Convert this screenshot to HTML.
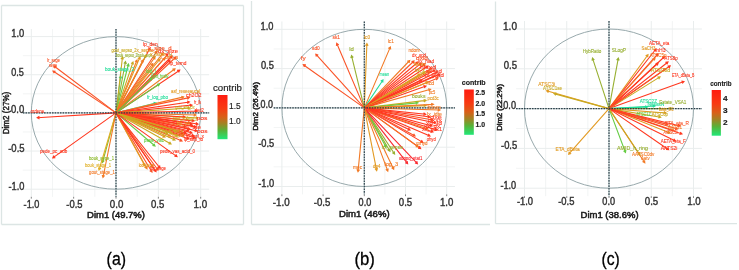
<!DOCTYPE html>
<html><head><meta charset="utf-8"><style>
html,body{margin:0;padding:0;background:#fff;}
body{width:739px;height:270px;overflow:hidden;}
svg{display:block;font-family:"Liberation Sans", sans-serif;filter:blur(0.3px);}
</style></head><body>
<svg width="739" height="270" viewBox="0 0 739 270">
<rect width="739" height="270" fill="#fff"/>
<line x1="1.5" y1="5.5" x2="1.5" y2="224.5" stroke="#dce5e4" stroke-width="1.3"/>
<line x1="1.5" y1="5.5" x2="243.5" y2="5.5" stroke="#dce5e4" stroke-width="1.3"/>
<line x1="243.5" y1="5.5" x2="243.5" y2="224.5" stroke="#dce5e4" stroke-width="1.3"/>
<line x1="1.5" y1="224.5" x2="243.5" y2="224.5" stroke="#dce5e4" stroke-width="1.3"/>
<line x1="52.47" y1="28.97" x2="52.47" y2="196.83" stroke="#e9eded" stroke-width="0.6"/>
<line x1="22.83" y1="170.12" x2="209.17" y2="170.12" stroke="#e9eded" stroke-width="0.6"/>
<line x1="94.83" y1="28.97" x2="94.83" y2="196.83" stroke="#e9eded" stroke-width="0.6"/>
<line x1="22.83" y1="131.97" x2="209.17" y2="131.97" stroke="#e9eded" stroke-width="0.6"/>
<line x1="137.18" y1="28.97" x2="137.18" y2="196.83" stroke="#e9eded" stroke-width="0.6"/>
<line x1="22.83" y1="93.83" x2="209.17" y2="93.83" stroke="#e9eded" stroke-width="0.6"/>
<line x1="179.53" y1="28.97" x2="179.53" y2="196.83" stroke="#e9eded" stroke-width="0.6"/>
<line x1="22.83" y1="55.68" x2="209.17" y2="55.68" stroke="#e9eded" stroke-width="0.6"/>
<line x1="31.30" y1="28.97" x2="31.30" y2="196.83" stroke="#e9eded" stroke-width="1"/>
<line x1="22.83" y1="189.20" x2="209.17" y2="189.20" stroke="#e9eded" stroke-width="1"/>
<line x1="73.65" y1="28.97" x2="73.65" y2="196.83" stroke="#e9eded" stroke-width="1"/>
<line x1="22.83" y1="151.05" x2="209.17" y2="151.05" stroke="#e9eded" stroke-width="1"/>
<line x1="116.00" y1="28.97" x2="116.00" y2="196.83" stroke="#e9eded" stroke-width="1"/>
<line x1="22.83" y1="112.90" x2="209.17" y2="112.90" stroke="#e9eded" stroke-width="1"/>
<line x1="158.35" y1="28.97" x2="158.35" y2="196.83" stroke="#e9eded" stroke-width="1"/>
<line x1="22.83" y1="74.75" x2="209.17" y2="74.75" stroke="#e9eded" stroke-width="1"/>
<line x1="200.70" y1="28.97" x2="200.70" y2="196.83" stroke="#e9eded" stroke-width="1"/>
<line x1="22.83" y1="36.60" x2="209.17" y2="36.60" stroke="#e9eded" stroke-width="1"/>
<ellipse cx="116" cy="112.9" rx="84.7" ry="76.3" fill="none" stroke="#8c9fa3" stroke-width="0.9"/>
<line x1="22.83" y1="112.9" x2="209.17" y2="112.9" stroke="#c8d8d8" stroke-width="1.3"/>
<line x1="116" y1="28.97" x2="116" y2="196.83" stroke="#c8d8d8" stroke-width="1.3"/>
<path d="M116.0 112.9L54.0 66.0M55.0 68.4L54.0 66.0L56.6 66.3" stroke="#fa5428" stroke-width="1.1" fill="none"/>
<path d="M116.0 112.9L53.0 71.0M54.2 73.3L53.0 71.0L55.6 71.2" stroke="#fa5428" stroke-width="1.1" fill="none"/>
<path d="M116.0 112.9L37.2 117.7M39.5 118.9L37.2 117.7L39.4 116.3" stroke="#ff3820" stroke-width="1.1" fill="none"/>
<path d="M116.0 112.9L52.8 157.9M55.4 157.7L52.8 157.9L53.9 155.5" stroke="#ff3820" stroke-width="1.1" fill="none"/>
<path d="M116.0 112.9L102.5 162.5M104.3 160.7L102.5 162.5L101.8 160.0" stroke="#8cba2c" stroke-width="1.1" fill="none"/>
<path d="M116.0 112.9L99.0 170.0M100.9 168.2L99.0 170.0L98.4 167.5" stroke="#e0b028" stroke-width="1.1" fill="none"/>
<path d="M116.0 112.9L103.0 177.5M104.7 175.5L103.0 177.5L102.2 175.0" stroke="#f27a26" stroke-width="1.1" fill="none"/>
<path d="M116.0 112.9L120.7 76.0M119.1 78.1L120.7 76.0L121.7 78.4" stroke="#22dd99" stroke-width="1.1" fill="none"/>
<path d="M116.0 112.9L122.5 57.0M120.9 59.1L122.5 57.0L123.5 59.4" stroke="#c9aa22" stroke-width="1.1" fill="none"/>
<path d="M116.0 112.9L125.5 61.5M123.8 63.5L125.5 61.5L126.4 64.0" stroke="#98b032" stroke-width="1.1" fill="none"/>
<path d="M116.0 112.9L128.5 64.0M126.7 65.9L128.5 64.0L129.2 66.5" stroke="#66cc44" stroke-width="1.1" fill="none"/>
<path d="M116.0 112.9L133.0 62.0M131.1 63.7L133.0 62.0L133.5 64.5" stroke="#c9aa22" stroke-width="1.1" fill="none"/>
<path d="M116.0 112.9L150.0 48.0M147.8 49.4L150.0 48.0L150.1 50.6" stroke="#ff3820" stroke-width="1.1" fill="none"/>
<path d="M116.0 112.9L157.0 51.0M154.7 52.2L157.0 51.0L156.8 53.6" stroke="#fa5428" stroke-width="1.1" fill="none"/>
<path d="M116.0 112.9L163.0 53.0M160.6 54.0L163.0 53.0L162.6 55.6" stroke="#f27a26" stroke-width="1.1" fill="none"/>
<path d="M116.0 112.9L168.0 54.0M165.5 54.8L168.0 54.0L167.5 56.5" stroke="#ff3820" stroke-width="1.1" fill="none"/>
<path d="M116.0 112.9L172.0 56.0M169.5 56.7L172.0 56.0L171.3 58.5" stroke="#ff3820" stroke-width="1.1" fill="none"/>
<path d="M116.0 112.9L176.0 57.0M173.5 57.6L176.0 57.0L175.2 59.5" stroke="#fa5428" stroke-width="1.1" fill="none"/>
<path d="M116.0 112.9L146.0 55.0M143.8 56.4L146.0 55.0L146.1 57.6" stroke="#c9aa22" stroke-width="1.1" fill="none"/>
<path d="M116.0 112.9L140.0 57.0M137.9 58.6L140.0 57.0L140.3 59.6" stroke="#e29a22" stroke-width="1.1" fill="none"/>
<path d="M116.0 112.9L155.0 57.0M152.6 58.1L155.0 57.0L154.8 59.6" stroke="#f27a26" stroke-width="1.1" fill="none"/>
<path d="M116.0 112.9L160.0 59.0M157.6 59.9L160.0 59.0L159.6 61.6" stroke="#e29a22" stroke-width="1.1" fill="none"/>
<path d="M116.0 112.9L165.0 58.0M162.5 58.8L165.0 58.0L164.5 60.5" stroke="#f27a26" stroke-width="1.1" fill="none"/>
<path d="M116.0 112.9L152.8 63.5M150.4 64.5L152.8 63.5L152.5 66.1" stroke="#f27a26" stroke-width="1.1" fill="none"/>
<path d="M116.0 112.9L170.0 60.0M167.5 60.6L170.0 60.0L169.3 62.5" stroke="#ff3820" stroke-width="1.1" fill="none"/>
<path d="M116.0 112.9L175.0 68.8M172.4 69.1L175.0 68.8L174.0 71.2" stroke="#f27a26" stroke-width="1.1" fill="none"/>
<path d="M116.0 112.9L179.7 70.2M177.1 70.4L179.7 70.2L178.6 72.5" stroke="#ff3820" stroke-width="1.1" fill="none"/>
<path d="M116.0 112.9L152.0 78.0M149.5 78.6L152.0 78.0L151.3 80.5" stroke="#66cc44" stroke-width="1.1" fill="none"/>
<path d="M116.0 112.9L159.5 84.0M156.9 84.2L159.5 84.0L158.3 86.3" stroke="#66cc44" stroke-width="1.1" fill="none"/>
<path d="M116.0 112.9L137.0 60.0M135.0 61.6L137.0 60.0L137.4 62.6" stroke="#f27a26" stroke-width="1.1" fill="none"/>
<path d="M116.0 112.9L143.0 60.0M140.8 61.4L143.0 60.0L143.1 62.6" stroke="#f27a26" stroke-width="1.1" fill="none"/>
<path d="M116.0 112.9L156.0 103.0M153.5 102.3L156.0 103.0L154.1 104.8" stroke="#22dd99" stroke-width="1.1" fill="none"/>
<path d="M116.0 112.9L183.7 96.9M181.2 96.2L183.7 96.9L181.8 98.7" stroke="#f27a26" stroke-width="1.1" fill="none"/>
<path d="M116.0 112.9L189.4 97.6M186.9 96.8L189.4 97.6L187.5 99.3" stroke="#fa5428" stroke-width="1.1" fill="none"/>
<path d="M116.0 112.9L189.4 102.0M187.0 101.0L189.4 102.0L187.4 103.6" stroke="#ff3820" stroke-width="1.1" fill="none"/>
<path d="M116.0 112.9L192.0 105.0M189.6 103.9L192.0 105.0L189.9 106.5" stroke="#ff3820" stroke-width="1.1" fill="none"/>
<path d="M116.0 112.9L190.0 108.0M187.7 106.9L190.0 108.0L187.8 109.4" stroke="#c9aa22" stroke-width="1.1" fill="none"/>
<path d="M116.0 112.9L197.0 111.0M194.7 109.8L197.0 111.0L194.8 112.4" stroke="#ff3820" stroke-width="1.1" fill="none"/>
<path d="M116.0 112.9L196.0 115.0M193.8 113.6L196.0 115.0L193.7 116.2" stroke="#f27a26" stroke-width="1.1" fill="none"/>
<path d="M116.0 112.9L198.0 118.0M195.8 116.6L198.0 118.0L195.7 119.2" stroke="#c9aa22" stroke-width="1.1" fill="none"/>
<path d="M116.0 112.9L194.0 121.0M191.9 119.5L194.0 121.0L191.6 122.1" stroke="#ff3820" stroke-width="1.1" fill="none"/>
<path d="M116.0 112.9L178.0 124.0M176.0 122.3L178.0 124.0L175.6 124.9" stroke="#e29a22" stroke-width="1.1" fill="none"/>
<path d="M116.0 112.9L192.0 124.0M190.0 122.4L192.0 124.0L189.6 125.0" stroke="#ff3820" stroke-width="1.1" fill="none"/>
<path d="M116.0 112.9L196.0 127.0M194.0 125.3L196.0 127.0L193.6 127.9" stroke="#ff3820" stroke-width="1.1" fill="none"/>
<path d="M116.0 112.9L190.0 129.0M188.1 127.3L190.0 129.0L187.5 129.8" stroke="#fa5428" stroke-width="1.1" fill="none"/>
<path d="M116.0 112.9L197.0 131.0M195.1 129.2L197.0 131.0L194.5 131.8" stroke="#ff3820" stroke-width="1.1" fill="none"/>
<path d="M116.0 112.9L186.0 133.0M184.2 131.1L186.0 133.0L183.5 133.6" stroke="#ff3820" stroke-width="1.1" fill="none"/>
<path d="M116.0 112.9L194.0 136.0M192.2 134.1L194.0 136.0L191.5 136.6" stroke="#ff3820" stroke-width="1.1" fill="none"/>
<path d="M116.0 112.9L189.0 139.0M187.3 137.0L189.0 139.0L186.4 139.5" stroke="#ff3820" stroke-width="1.1" fill="none"/>
<path d="M116.0 112.9L182.0 141.0M180.4 138.9L182.0 141.0L179.4 141.3" stroke="#fa5428" stroke-width="1.1" fill="none"/>
<path d="M116.0 112.9L175.0 140.0M173.5 137.9L175.0 140.0L172.4 140.2" stroke="#c9aa22" stroke-width="1.1" fill="none"/>
<path d="M116.0 112.9L171.0 144.0M169.7 141.8L171.0 144.0L168.4 144.0" stroke="#c9aa22" stroke-width="1.1" fill="none"/>
<path d="M116.0 112.9L165.0 137.0M163.6 134.8L165.0 137.0L162.4 137.2" stroke="#e29a22" stroke-width="1.1" fill="none"/>
<path d="M116.0 112.9L155.0 146.0M154.1 143.6L155.0 146.0L152.4 145.5" stroke="#66cc44" stroke-width="1.1" fill="none"/>
<path d="M116.0 112.9L177.0 156.6M175.9 154.2L177.0 156.6L174.4 156.3" stroke="#ff3820" stroke-width="1.1" fill="none"/>
<path d="M116.0 112.9L147.0 168.7M147.0 166.1L147.0 168.7L144.8 167.4" stroke="#f27a26" stroke-width="1.1" fill="none"/>
<path d="M116.0 112.9L156.0 171.7M155.8 169.1L156.0 171.7L153.7 170.6" stroke="#ff3820" stroke-width="1.1" fill="none"/>
<path d="M116.0 112.9L158.0 170.0M157.7 167.4L158.0 170.0L155.6 169.0" stroke="#fa5428" stroke-width="1.1" fill="none"/>
<path d="M116.0 112.9L153.0 167.0M152.8 164.4L153.0 167.0L150.7 165.9" stroke="#ff3820" stroke-width="1.1" fill="none"/>
<path d="M116.0 112.9L145.0 166.0M145.1 163.4L145.0 166.0L142.8 164.6" stroke="#e29a22" stroke-width="1.1" fill="none"/>
<path d="M116.0 112.9L185.0 117.0M182.8 115.6L185.0 117.0L182.7 118.2" stroke="#ff3820" stroke-width="1.1" fill="none"/>
<path d="M116.0 112.9L188.0 120.0M185.9 118.5L188.0 120.0L185.6 121.1" stroke="#fa5428" stroke-width="1.1" fill="none"/>
<path d="M116.0 112.9L190.0 123.0M187.9 121.4L190.0 123.0L187.6 124.0" stroke="#ff3820" stroke-width="1.1" fill="none"/>
<path d="M116.0 112.9L193.0 126.0M191.0 124.3L193.0 126.0L190.6 126.9" stroke="#ff3820" stroke-width="1.1" fill="none"/>
<path d="M116.0 112.9L186.0 127.0M184.0 125.3L186.0 127.0L183.5 127.8" stroke="#fa5428" stroke-width="1.1" fill="none"/>
<path d="M116.0 112.9L189.0 131.0M187.1 129.2L189.0 131.0L186.5 131.7" stroke="#ff3820" stroke-width="1.1" fill="none"/>
<path d="M116.0 112.9L192.0 133.0M190.2 131.2L192.0 133.0L189.5 133.7" stroke="#ff3820" stroke-width="1.1" fill="none"/>
<path d="M116.0 112.9L184.0 136.0M182.3 134.0L184.0 136.0L181.4 136.5" stroke="#ff3820" stroke-width="1.1" fill="none"/>
<path d="M116.0 112.9L195.0 138.0M193.2 136.1L195.0 138.0L192.5 138.6" stroke="#ff3820" stroke-width="1.1" fill="none"/>
<path d="M116.0 112.9L180.0 131.0M178.2 129.1L180.0 131.0L177.5 131.6" stroke="#f27a26" stroke-width="1.1" fill="none"/>
<path d="M116.0 112.9L183.0 134.0M181.2 132.1L183.0 134.0L180.5 134.6" stroke="#ff3820" stroke-width="1.1" fill="none"/>
<path d="M116.0 112.9L198.0 124.0M195.9 122.4L198.0 124.0L195.6 125.0" stroke="#ff3820" stroke-width="1.1" fill="none"/>
<path d="M116.0 112.9L176.0 131.0M174.2 129.1L176.0 131.0L173.5 131.6" stroke="#c9aa22" stroke-width="1.1" fill="none"/>
<path d="M116.0 112.9L172.0 133.0M170.3 131.0L172.0 133.0L169.4 133.5" stroke="#e29a22" stroke-width="1.1" fill="none"/>
<path d="M116.0 112.9L178.0 136.0M176.3 134.0L178.0 136.0L175.4 136.4" stroke="#c9aa22" stroke-width="1.1" fill="none"/>
<path d="M116.0 112.9L168.0 134.0M166.4 131.9L168.0 134.0L165.4 134.4" stroke="#c9aa22" stroke-width="1.1" fill="none"/>
<path d="M116.0 112.9L152.0 172.0M151.9 169.4L152.0 172.0L149.7 170.8" stroke="#fa5428" stroke-width="1.1" fill="none"/>
<path d="M116.0 112.9L160.0 168.0M159.6 165.4L160.0 168.0L157.6 167.1" stroke="#ff3820" stroke-width="1.1" fill="none"/>
<line x1="22.83" y1="112.9" x2="209.17" y2="112.9" stroke="#2c3d48" stroke-width="1.15" stroke-dasharray="1.6 1.05"/>
<line x1="116" y1="28.97" x2="116" y2="196.83" stroke="#2c3d48" stroke-width="1.15" stroke-dasharray="1.6 1.05"/>
<text x="47" y="61.5" font-size="5.3" font-weight="normal" fill="#fa5428" text-anchor="start" textLength="13" lengthAdjust="spacingAndGlyphs" stroke="#fa5428" stroke-width="0.12">lr_sege</text>
<text x="49" y="66.5" font-size="5.3" font-weight="normal" fill="#fa5428" text-anchor="start" textLength="8" lengthAdjust="spacingAndGlyphs" stroke="#fa5428" stroke-width="0.12">sege</text>
<text x="30.6" y="113.4" font-size="5.3" font-weight="normal" fill="#ff3820" text-anchor="start" textLength="13.3" lengthAdjust="spacingAndGlyphs" stroke="#ff3820" stroke-width="0.12">ordena</text>
<text x="40" y="152.8" font-size="5.3" font-weight="normal" fill="#ff3820" text-anchor="start" textLength="27.2" lengthAdjust="spacingAndGlyphs" stroke="#ff3820" stroke-width="0.12">pede_pc_sub</text>
<text x="89" y="159.8" font-size="5.3" font-weight="normal" fill="#8cba2c" text-anchor="start" textLength="25" lengthAdjust="spacingAndGlyphs" stroke="#8cba2c" stroke-width="0.12">bouk_sepe_1</text>
<text x="85" y="166.8" font-size="5.3" font-weight="normal" fill="#e0b028" text-anchor="start" textLength="26" lengthAdjust="spacingAndGlyphs" stroke="#e0b028" stroke-width="0.12">bouk_stage_1</text>
<text x="89" y="173.5" font-size="5.3" font-weight="normal" fill="#f27a26" text-anchor="start" textLength="26" lengthAdjust="spacingAndGlyphs" stroke="#f27a26" stroke-width="0.12">gout_stage_1</text>
<text x="105" y="70.5" font-size="5.3" font-weight="normal" fill="#22dd99" text-anchor="start" textLength="29" lengthAdjust="spacingAndGlyphs" stroke="#22dd99" stroke-width="0.12">bouk_stage_2</text>
<text x="111.4" y="51.7" font-size="5.3" font-weight="normal" fill="#c9aa22" text-anchor="start" textLength="25" lengthAdjust="spacingAndGlyphs" stroke="#c9aa22" stroke-width="0.12">gout_sepso_2</text>
<text x="136.5" y="51.7" font-size="5.3" font-weight="normal" fill="#e29a22" text-anchor="start" textLength="22" lengthAdjust="spacingAndGlyphs" stroke="#e29a22" stroke-width="0.12">x_sepso_d</text>
<text x="116" y="57" font-size="5.3" font-weight="normal" fill="#98b032" text-anchor="start" textLength="21.4" lengthAdjust="spacingAndGlyphs" stroke="#98b032" stroke-width="0.12">bouk_sepso_2</text>
<text x="137.5" y="57" font-size="5.3" font-weight="normal" fill="#98b032" text-anchor="start" textLength="18" lengthAdjust="spacingAndGlyphs" stroke="#98b032" stroke-width="0.12">bouk_sepe_d</text>
<text x="143" y="45.5" font-size="5.3" font-weight="normal" fill="#ff3820" text-anchor="start" textLength="14.8" lengthAdjust="spacingAndGlyphs" stroke="#ff3820" stroke-width="0.12">lp_den</text>
<text x="148" y="49.6" font-size="5.3" font-weight="normal" fill="#fa5428" text-anchor="start" textLength="23.5" lengthAdjust="spacingAndGlyphs" stroke="#fa5428" stroke-width="0.12">x_size_d</text>
<text x="158" y="52.8" font-size="5.3" font-weight="normal" fill="#ff3820" text-anchor="start" textLength="20" lengthAdjust="spacingAndGlyphs" stroke="#ff3820" stroke-width="0.12">dx_size</text>
<text x="150" y="55.8" font-size="5.3" font-weight="normal" fill="#e29a22" text-anchor="start" textLength="22" lengthAdjust="spacingAndGlyphs" stroke="#e29a22" stroke-width="0.12">x_size_u</text>
<text x="160" y="58.5" font-size="5.3" font-weight="normal" fill="#f27a26" text-anchor="start" textLength="18" lengthAdjust="spacingAndGlyphs" stroke="#f27a26" stroke-width="0.12">x_den_u</text>
<text x="169.5" y="64.7" font-size="5.3" font-weight="normal" fill="#ff3820" text-anchor="start" textLength="17" lengthAdjust="spacingAndGlyphs" stroke="#ff3820" stroke-width="0.12">lp_temd</text>
<text x="146" y="73.2" font-size="5.3" font-weight="normal" fill="#66cc44" text-anchor="start" textLength="10" lengthAdjust="spacingAndGlyphs" stroke="#66cc44" stroke-width="0.12">lod_l</text>
<text x="151" y="77.8" font-size="5.3" font-weight="normal" fill="#66cc44" text-anchor="start" textLength="17.4" lengthAdjust="spacingAndGlyphs" stroke="#66cc44" stroke-width="0.12">light_hrdiv</text>
<text x="147" y="99.3" font-size="5.3" font-weight="normal" fill="#22dd99" text-anchor="start" textLength="21" lengthAdjust="spacingAndGlyphs" stroke="#22dd99" stroke-width="0.12">fr_log_pbo</text>
<text x="171" y="92.9" font-size="5.3" font-weight="normal" fill="#e29a22" text-anchor="start" textLength="29" lengthAdjust="spacingAndGlyphs" stroke="#e29a22" stroke-width="0.12">asf_reseeaucal</text>
<text x="186" y="96.9" font-size="5.3" font-weight="normal" fill="#ff3820" text-anchor="start" textLength="15.5" lengthAdjust="spacingAndGlyphs" stroke="#ff3820" stroke-width="0.12">ch2O2</text>
<text x="194" y="104.3" font-size="5.3" font-weight="normal" fill="#ff3820" text-anchor="start" textLength="7" lengthAdjust="spacingAndGlyphs" stroke="#ff3820" stroke-width="0.12">fr_lk</text>
<text x="175.6" y="108.7" font-size="5.3" font-weight="normal" fill="#c9aa22" text-anchor="start" textLength="19" lengthAdjust="spacingAndGlyphs" stroke="#c9aa22" stroke-width="0.12">gout_amr_ctx</text>
<text x="194.8" y="111.7" font-size="5.3" font-weight="normal" fill="#ff3820" text-anchor="start" textLength="9" lengthAdjust="spacingAndGlyphs" stroke="#ff3820" stroke-width="0.12">ded2</text>
<text x="172.6" y="119.8" font-size="5.3" font-weight="normal" fill="#c9aa22" text-anchor="start" textLength="24" lengthAdjust="spacingAndGlyphs" stroke="#c9aa22" stroke-width="0.12">gout_solage_</text>
<text x="196.6" y="119.8" font-size="5.3" font-weight="normal" fill="#ff3820" text-anchor="start" textLength="10.8" lengthAdjust="spacingAndGlyphs" stroke="#ff3820" stroke-width="0.12">pos</text>
<text x="177" y="125" font-size="5.3" font-weight="normal" fill="#e29a22" text-anchor="start" textLength="12.6" lengthAdjust="spacingAndGlyphs" stroke="#e29a22" stroke-width="0.12">bio_vol</text>
<text x="184" y="128.5" font-size="5.3" font-weight="normal" fill="#ff3820" text-anchor="start" textLength="17" lengthAdjust="spacingAndGlyphs" stroke="#ff3820" stroke-width="0.12">lx_tde</text>
<text x="197" y="133" font-size="5.3" font-weight="normal" fill="#ff3820" text-anchor="start" textLength="10.4" lengthAdjust="spacingAndGlyphs" stroke="#ff3820" stroke-width="0.12">pos</text>
<text x="183.7" y="141.3" font-size="5.3" font-weight="normal" fill="#ff3820" text-anchor="start" textLength="19.3" lengthAdjust="spacingAndGlyphs" stroke="#ff3820" stroke-width="0.12">lp_sep_lo</text>
<text x="144" y="141.7" font-size="5.3" font-weight="normal" fill="#66cc44" text-anchor="start" textLength="20" lengthAdjust="spacingAndGlyphs" stroke="#66cc44" stroke-width="0.12">pasle_visc</text>
<text x="160" y="152.6" font-size="5.3" font-weight="normal" fill="#ff3820" text-anchor="start" textLength="35" lengthAdjust="spacingAndGlyphs" stroke="#ff3820" stroke-width="0.12">pede_vas_acid_0</text>
<text x="138.8" y="166.5" font-size="5.3" font-weight="normal" fill="#e29a22" text-anchor="start" textLength="15" lengthAdjust="spacingAndGlyphs" stroke="#e29a22" stroke-width="0.12">lodf_sege</text>
<text x="150" y="169.5" font-size="5.3" font-weight="normal" fill="#ff3820" text-anchor="start" textLength="16" lengthAdjust="spacingAndGlyphs" stroke="#ff3820" stroke-width="0.12">log_sege</text>
<text x="163" y="133" font-size="5.3" font-weight="normal" fill="#c9aa22" text-anchor="start" textLength="20" lengthAdjust="spacingAndGlyphs" stroke="#c9aa22" stroke-width="0.12">bouk_vol_x</text>
<text x="168" y="136.5" font-size="5.3" font-weight="normal" fill="#e29a22" text-anchor="start" textLength="16" lengthAdjust="spacingAndGlyphs" stroke="#e29a22" stroke-width="0.12">gout_vol</text>
<text x="186" y="137.5" font-size="5.3" font-weight="normal" fill="#ff3820" text-anchor="start" textLength="18" lengthAdjust="spacingAndGlyphs" stroke="#ff3820" stroke-width="0.12">lp_vol_x</text>
<text x="24.2" y="37.2" font-size="10.2" font-weight="normal" fill="#333333" text-anchor="end" textLength="13" lengthAdjust="spacingAndGlyphs" stroke="#333333" stroke-width="0.4">1.0</text>
<text x="23.8" y="75.5" font-size="10.2" font-weight="normal" fill="#333333" text-anchor="end" textLength="12.6" lengthAdjust="spacingAndGlyphs" stroke="#333333" stroke-width="0.4">0.5</text>
<text x="24.3" y="113.4" font-size="10.2" font-weight="normal" fill="#333333" text-anchor="end" textLength="13.2" lengthAdjust="spacingAndGlyphs" stroke="#333333" stroke-width="0.4">0.0</text>
<text x="24.6" y="151.7" font-size="10.2" font-weight="normal" fill="#333333" text-anchor="end" textLength="16.4" lengthAdjust="spacingAndGlyphs" stroke="#333333" stroke-width="0.4">-0.5</text>
<text x="24.5" y="189.7" font-size="10.2" font-weight="normal" fill="#333333" text-anchor="end" textLength="16" lengthAdjust="spacingAndGlyphs" stroke="#333333" stroke-width="0.4">-1.0</text>
<text x="31.5" y="207.8" font-size="10.2" font-weight="normal" fill="#333333" text-anchor="middle" textLength="15.8" lengthAdjust="spacingAndGlyphs" stroke="#333333" stroke-width="0.4">-1.0</text>
<line x1="31.30" y1="196.83" x2="31.30" y2="198.63" stroke="#666" stroke-width="0.8"/>
<text x="74.4" y="207.8" font-size="10.2" font-weight="normal" fill="#333333" text-anchor="middle" textLength="16.2" lengthAdjust="spacingAndGlyphs" stroke="#333333" stroke-width="0.4">-0.5</text>
<line x1="73.65" y1="196.83" x2="73.65" y2="198.63" stroke="#666" stroke-width="0.8"/>
<text x="116.6" y="207.8" font-size="10.2" font-weight="normal" fill="#333333" text-anchor="middle" textLength="13.5" lengthAdjust="spacingAndGlyphs" stroke="#333333" stroke-width="0.4">0.0</text>
<line x1="116.00" y1="196.83" x2="116.00" y2="198.63" stroke="#666" stroke-width="0.8"/>
<text x="157.7" y="207.8" font-size="10.2" font-weight="normal" fill="#333333" text-anchor="middle" textLength="13.3" lengthAdjust="spacingAndGlyphs" stroke="#333333" stroke-width="0.4">0.5</text>
<line x1="158.35" y1="196.83" x2="158.35" y2="198.63" stroke="#666" stroke-width="0.8"/>
<text x="200.3" y="207.8" font-size="10.2" font-weight="normal" fill="#333333" text-anchor="middle" textLength="13.6" lengthAdjust="spacingAndGlyphs" stroke="#333333" stroke-width="0.4">1.0</text>
<line x1="200.70" y1="196.83" x2="200.70" y2="198.63" stroke="#666" stroke-width="0.8"/>
<text x="116" y="218.4" font-size="8.9" font-weight="normal" fill="#1a1a1a" text-anchor="middle" textLength="57.8" lengthAdjust="spacingAndGlyphs" stroke="#1a1a1a" stroke-width="0.5">Dim1 (49.7%)</text>
<text x="9.3" y="113" font-size="8.4" font-weight="normal" fill="#1a1a1a" text-anchor="middle" textLength="42.5" lengthAdjust="spacingAndGlyphs" transform="rotate(-90 9.3 113)" stroke="#1a1a1a" stroke-width="0.45">Dim2 (27%)</text>
<text x="213" y="91.2" font-size="9" font-weight="normal" fill="#1a1a1a" text-anchor="start" textLength="29" lengthAdjust="spacingAndGlyphs" stroke="#1a1a1a" stroke-width="0.15">contrib</text>
<defs><linearGradient id="ag" x1="0" y1="0" x2="0" y2="1"><stop offset="0" stop-color="#ff1c10"/><stop offset="0.3" stop-color="#f83a12"/><stop offset="0.5" stop-color="#d86018"/><stop offset="0.65" stop-color="#a08424"/><stop offset="0.8" stop-color="#58b238"/><stop offset="1" stop-color="#20e878"/></linearGradient></defs>
<rect x="217.5" y="95" width="10.0" height="44.19999999999999" fill="url(#ag)"/>
<text x="229" y="109.2" font-size="9.2" font-weight="normal" fill="#1a1a1a" text-anchor="start" textLength="11.7" lengthAdjust="spacingAndGlyphs" stroke="#1a1a1a" stroke-width="0.15">1.5</text>
<text x="229" y="124.1" font-size="9.2" font-weight="normal" fill="#1a1a1a" text-anchor="start" textLength="11.7" lengthAdjust="spacingAndGlyphs" stroke="#1a1a1a" stroke-width="0.15">1.0</text>
<line x1="251.5" y1="1" x2="251.5" y2="224.5" stroke="#dce5e4" stroke-width="1.3"/>
<line x1="251.5" y1="224.5" x2="490" y2="224.5" stroke="#dce5e4" stroke-width="1.3"/>
<line x1="302.50" y1="21.44" x2="302.50" y2="194.36" stroke="#e9eded" stroke-width="0.6"/>
<line x1="273.66" y1="166.85" x2="454.94" y2="166.85" stroke="#e9eded" stroke-width="0.6"/>
<line x1="343.70" y1="21.44" x2="343.70" y2="194.36" stroke="#e9eded" stroke-width="0.6"/>
<line x1="273.66" y1="127.55" x2="454.94" y2="127.55" stroke="#e9eded" stroke-width="0.6"/>
<line x1="384.90" y1="21.44" x2="384.90" y2="194.36" stroke="#e9eded" stroke-width="0.6"/>
<line x1="273.66" y1="88.25" x2="454.94" y2="88.25" stroke="#e9eded" stroke-width="0.6"/>
<line x1="426.10" y1="21.44" x2="426.10" y2="194.36" stroke="#e9eded" stroke-width="0.6"/>
<line x1="273.66" y1="48.95" x2="454.94" y2="48.95" stroke="#e9eded" stroke-width="0.6"/>
<line x1="281.90" y1="21.44" x2="281.90" y2="194.36" stroke="#e9eded" stroke-width="1"/>
<line x1="273.66" y1="186.50" x2="454.94" y2="186.50" stroke="#e9eded" stroke-width="1"/>
<line x1="323.10" y1="21.44" x2="323.10" y2="194.36" stroke="#e9eded" stroke-width="1"/>
<line x1="273.66" y1="147.20" x2="454.94" y2="147.20" stroke="#e9eded" stroke-width="1"/>
<line x1="364.30" y1="21.44" x2="364.30" y2="194.36" stroke="#e9eded" stroke-width="1"/>
<line x1="273.66" y1="107.90" x2="454.94" y2="107.90" stroke="#e9eded" stroke-width="1"/>
<line x1="405.50" y1="21.44" x2="405.50" y2="194.36" stroke="#e9eded" stroke-width="1"/>
<line x1="273.66" y1="68.60" x2="454.94" y2="68.60" stroke="#e9eded" stroke-width="1"/>
<line x1="446.70" y1="21.44" x2="446.70" y2="194.36" stroke="#e9eded" stroke-width="1"/>
<line x1="273.66" y1="29.30" x2="454.94" y2="29.30" stroke="#e9eded" stroke-width="1"/>
<ellipse cx="364.3" cy="107.9" rx="82.4" ry="78.6" fill="none" stroke="#8c9fa3" stroke-width="0.9"/>
<line x1="273.66" y1="107.9" x2="454.94" y2="107.9" stroke="#c8d8d8" stroke-width="1.3"/>
<line x1="364.3" y1="21.44" x2="364.3" y2="194.36" stroke="#c8d8d8" stroke-width="1.3"/>
<path d="M364.3 107.9L303.3 64.7M304.4 67.1L303.3 64.7L305.9 64.9" stroke="#fa5428" stroke-width="1.1" fill="none"/>
<path d="M364.3 107.9L315.8 54.2M316.3 56.7L315.8 54.2L318.3 55.0" stroke="#fa5428" stroke-width="1.1" fill="none"/>
<path d="M364.3 107.9L336.7 43.3M336.4 45.9L336.7 43.3L338.8 44.9" stroke="#fa5428" stroke-width="1.1" fill="none"/>
<path d="M364.3 107.9L351.5 55.6M350.8 58.1L351.5 55.6L353.3 57.5" stroke="#98b032" stroke-width="1.1" fill="none"/>
<path d="M364.3 107.9L366.9 43.5M365.5 45.7L366.9 43.5L368.1 45.8" stroke="#e29a22" stroke-width="1.1" fill="none"/>
<path d="M364.3 107.9L390.4 46.9M388.3 48.5L390.4 46.9L390.7 49.5" stroke="#f27a26" stroke-width="1.1" fill="none"/>
<path d="M364.3 107.9L383.0 80.0M380.7 81.1L383.0 80.0L382.8 82.6" stroke="#22dd99" stroke-width="1.1" fill="none"/>
<path d="M364.3 107.9L409.7 60.5M407.2 61.2L409.7 60.5L409.1 63.0" stroke="#f27a26" stroke-width="1.1" fill="none"/>
<path d="M364.3 107.9L414.0 61.0M411.5 61.6L414.0 61.0L413.3 63.5" stroke="#fa5428" stroke-width="1.1" fill="none"/>
<path d="M364.3 107.9L418.0 62.0M415.4 62.5L418.0 62.0L417.1 64.5" stroke="#ff3820" stroke-width="1.1" fill="none"/>
<path d="M364.3 107.9L421.4 63.1M418.8 63.5L421.4 63.1L420.4 65.5" stroke="#ff3820" stroke-width="1.1" fill="none"/>
<path d="M364.3 107.9L425.0 64.0M422.4 64.3L425.0 64.0L423.9 66.4" stroke="#ff3820" stroke-width="1.1" fill="none"/>
<path d="M364.3 107.9L428.0 66.0M425.4 66.2L428.0 66.0L426.8 68.3" stroke="#ff3820" stroke-width="1.1" fill="none"/>
<path d="M364.3 107.9L432.0 68.0M429.4 68.0L432.0 68.0L430.7 70.3" stroke="#fa5428" stroke-width="1.1" fill="none"/>
<path d="M364.3 107.9L435.0 70.0M432.4 69.9L435.0 70.0L433.6 72.2" stroke="#ff3820" stroke-width="1.1" fill="none"/>
<path d="M364.3 107.9L437.0 72.0M434.4 71.8L437.0 72.0L435.6 74.2" stroke="#ff3820" stroke-width="1.1" fill="none"/>
<path d="M364.3 107.9L440.0 74.0M437.4 73.7L440.0 74.0L438.5 76.1" stroke="#ff3820" stroke-width="1.1" fill="none"/>
<path d="M364.3 107.9L430.0 71.0M427.4 71.0L430.0 71.0L428.7 73.2" stroke="#f27a26" stroke-width="1.1" fill="none"/>
<path d="M364.3 107.9L425.0 72.0M422.4 72.0L425.0 72.0L423.7 74.3" stroke="#c9aa22" stroke-width="1.1" fill="none"/>
<path d="M364.3 107.9L420.0 74.0M417.4 74.1L420.0 74.0L418.8 76.3" stroke="#e29a22" stroke-width="1.1" fill="none"/>
<path d="M364.3 107.9L434.0 76.0M431.4 75.8L434.0 76.0L432.5 78.1" stroke="#ff3820" stroke-width="1.1" fill="none"/>
<path d="M364.3 107.9L438.0 78.0M435.4 77.6L438.0 78.0L436.4 80.1" stroke="#fa5428" stroke-width="1.1" fill="none"/>
<path d="M364.3 107.9L422.0 80.0M419.4 79.8L422.0 80.0L420.5 82.2" stroke="#ff3820" stroke-width="1.1" fill="none"/>
<path d="M364.3 107.9L428.0 82.0M425.4 81.6L428.0 82.0L426.4 84.1" stroke="#e29a22" stroke-width="1.1" fill="none"/>
<path d="M364.3 107.9L430.6 89.3M428.1 88.7L430.6 89.3L428.8 91.2" stroke="#f27a26" stroke-width="1.1" fill="none"/>
<path d="M364.3 107.9L426.0 86.0M423.4 85.5L426.0 86.0L424.3 88.0" stroke="#ff3820" stroke-width="1.1" fill="none"/>
<path d="M364.3 107.9L426.0 100.4M423.6 99.4L426.0 100.4L423.9 102.0" stroke="#c9aa22" stroke-width="1.1" fill="none"/>
<path d="M364.3 107.9L418.0 102.9M415.6 101.8L418.0 102.9L415.9 104.4" stroke="#66cc44" stroke-width="1.1" fill="none"/>
<path d="M364.3 107.9L426.0 105.6M423.7 104.4L426.0 105.6L423.8 107.0" stroke="#c9aa22" stroke-width="1.1" fill="none"/>
<path d="M364.3 107.9L433.5 104.4M431.2 103.2L433.5 104.4L431.3 105.8" stroke="#f27a26" stroke-width="1.1" fill="none"/>
<path d="M364.3 107.9L440.0 110.0M437.8 108.6L440.0 110.0L437.7 111.2" stroke="#f27a26" stroke-width="1.1" fill="none"/>
<path d="M364.3 107.9L425.7 114.3M423.6 112.8L425.7 114.3L423.3 115.4" stroke="#ff3820" stroke-width="1.1" fill="none"/>
<path d="M364.3 107.9L430.0 117.0M427.9 115.4L430.0 117.0L427.6 118.0" stroke="#ff3820" stroke-width="1.1" fill="none"/>
<path d="M364.3 107.9L433.0 120.0M431.0 118.3L433.0 120.0L430.6 120.9" stroke="#fa5428" stroke-width="1.1" fill="none"/>
<path d="M364.3 107.9L436.0 123.0M434.1 121.3L436.0 123.0L433.5 123.8" stroke="#ff3820" stroke-width="1.1" fill="none"/>
<path d="M364.3 107.9L432.0 126.0M430.2 124.2L432.0 126.0L429.5 126.7" stroke="#ff3820" stroke-width="1.1" fill="none"/>
<path d="M364.3 107.9L433.0 132.0M431.3 130.0L433.0 132.0L430.4 132.5" stroke="#ff3820" stroke-width="1.1" fill="none"/>
<path d="M364.3 107.9L428.0 129.0M426.3 127.1L428.0 129.0L425.5 129.5" stroke="#f27a26" stroke-width="1.1" fill="none"/>
<path d="M364.3 107.9L437.0 130.0M435.2 128.1L437.0 130.0L434.5 130.6" stroke="#ff3820" stroke-width="1.1" fill="none"/>
<path d="M364.3 107.9L430.0 136.0M428.4 133.9L430.0 136.0L427.4 136.3" stroke="#ff3820" stroke-width="1.1" fill="none"/>
<path d="M364.3 107.9L420.6 148.5M419.5 146.1L420.6 148.5L418.0 148.2" stroke="#ff3820" stroke-width="1.1" fill="none"/>
<path d="M364.3 107.9L422.8 142.4M421.5 140.1L422.8 142.4L420.2 142.4" stroke="#ff3820" stroke-width="1.1" fill="none"/>
<path d="M364.3 107.9L418.3 146.9M417.2 144.5L418.3 146.9L415.7 146.6" stroke="#f27a26" stroke-width="1.1" fill="none"/>
<path d="M364.3 107.9L410.0 130.0M408.5 127.8L410.0 130.0L407.4 130.2" stroke="#ff3820" stroke-width="1.1" fill="none"/>
<path d="M364.3 107.9L415.0 136.0M413.7 133.8L415.0 136.0L412.4 136.0" stroke="#fa5428" stroke-width="1.1" fill="none"/>
<path d="M364.3 107.9L390.0 151.3M390.0 148.7L390.0 151.3L387.7 150.0" stroke="#98b032" stroke-width="1.1" fill="none"/>
<path d="M364.3 107.9L394.6 154.0M394.4 151.4L394.6 154.0L392.3 152.8" stroke="#98b032" stroke-width="1.1" fill="none"/>
<path d="M364.3 107.9L386.0 147.0M386.0 144.4L386.0 147.0L383.8 145.7" stroke="#66cc44" stroke-width="1.1" fill="none"/>
<path d="M364.3 107.9L407.6 163.7M407.2 161.1L407.6 163.7L405.2 162.7" stroke="#fa2a30" stroke-width="1.1" fill="none"/>
<path d="M364.3 107.9L417.4 163.7M416.8 161.2L417.4 163.7L414.9 163.0" stroke="#fa2a30" stroke-width="1.1" fill="none"/>
<path d="M364.3 107.9L358.0 171.7M359.5 169.6L358.0 171.7L356.9 169.3" stroke="#f27a26" stroke-width="1.1" fill="none"/>
<path d="M364.3 107.9L376.7 170.7M377.5 168.2L376.7 170.7L375.0 168.7" stroke="#e29a22" stroke-width="1.1" fill="none"/>
<path d="M364.3 107.9L387.8 171.1M388.2 168.5L387.8 171.1L385.8 169.4" stroke="#f27a26" stroke-width="1.1" fill="none"/>
<path d="M364.3 107.9L393.7 169.3M393.9 166.7L393.7 169.3L391.6 167.8" stroke="#f27a26" stroke-width="1.1" fill="none"/>
<line x1="273.66" y1="107.9" x2="454.94" y2="107.9" stroke="#2c3d48" stroke-width="1.15" stroke-dasharray="1.6 1.05"/>
<line x1="364.3" y1="21.44" x2="364.3" y2="194.36" stroke="#2c3d48" stroke-width="1.15" stroke-dasharray="1.6 1.05"/>
<text x="300.8" y="60" font-size="5.3" font-weight="normal" fill="#fa5428" text-anchor="start" textLength="5" lengthAdjust="spacingAndGlyphs" stroke="#fa5428" stroke-width="0.12">fy</text>
<text x="312" y="50" font-size="5.3" font-weight="normal" fill="#fa5428" text-anchor="start" textLength="7.7" lengthAdjust="spacingAndGlyphs" stroke="#fa5428" stroke-width="0.12">sd0</text>
<text x="332.5" y="39.2" font-size="5.3" font-weight="normal" fill="#fa5428" text-anchor="start" textLength="7.5" lengthAdjust="spacingAndGlyphs" stroke="#fa5428" stroke-width="0.12">sk1</text>
<text x="349.3" y="50.9" font-size="5.3" font-weight="normal" fill="#98b032" text-anchor="start" textLength="4.6" lengthAdjust="spacingAndGlyphs" stroke="#98b032" stroke-width="0.12">ld</text>
<text x="364" y="39.4" font-size="5.3" font-weight="normal" fill="#e29a22" text-anchor="start" textLength="6" lengthAdjust="spacingAndGlyphs" stroke="#e29a22" stroke-width="0.12">lc0</text>
<text x="387.8" y="42.6" font-size="5.3" font-weight="normal" fill="#f27a26" text-anchor="start" textLength="5.9" lengthAdjust="spacingAndGlyphs" stroke="#f27a26" stroke-width="0.12">lc1</text>
<text x="379.5" y="75.8" font-size="5.3" font-weight="normal" fill="#22dd99" text-anchor="start" textLength="9.5" lengthAdjust="spacingAndGlyphs" stroke="#22dd99" stroke-width="0.12">mean</text>
<text x="408.4" y="52.1" font-size="5.3" font-weight="normal" fill="#f27a26" text-anchor="start" textLength="11.6" lengthAdjust="spacingAndGlyphs" stroke="#f27a26" stroke-width="0.12">ndonr</text>
<text x="412" y="56.5" font-size="5.3" font-weight="normal" fill="#ff3820" text-anchor="start" textLength="14" lengthAdjust="spacingAndGlyphs" stroke="#ff3820" stroke-width="0.12">dx_spd</text>
<text x="416" y="59.5" font-size="5.3" font-weight="normal" fill="#fa5428" text-anchor="start" textLength="12" lengthAdjust="spacingAndGlyphs" stroke="#fa5428" stroke-width="0.12">dxld</text>
<text x="418" y="62.5" font-size="5.3" font-weight="normal" fill="#ff3820" text-anchor="start" textLength="16" lengthAdjust="spacingAndGlyphs" stroke="#ff3820" stroke-width="0.12">xx_hlad</text>
<text x="414" y="65.5" font-size="5.3" font-weight="normal" fill="#e29a22" text-anchor="start" textLength="12" lengthAdjust="spacingAndGlyphs" stroke="#e29a22" stroke-width="0.12">bksx</text>
<text x="420" y="68.5" font-size="5.3" font-weight="normal" fill="#ff3820" text-anchor="start" textLength="16" lengthAdjust="spacingAndGlyphs" stroke="#ff3820" stroke-width="0.12">hlsxd</text>
<text x="415" y="71.5" font-size="5.3" font-weight="normal" fill="#c9aa22" text-anchor="start" textLength="10" lengthAdjust="spacingAndGlyphs" stroke="#c9aa22" stroke-width="0.12">bk_x</text>
<text x="426" y="72.5" font-size="5.3" font-weight="normal" fill="#ff3820" text-anchor="start" textLength="16" lengthAdjust="spacingAndGlyphs" stroke="#ff3820" stroke-width="0.12">xx_sd</text>
<text x="423" y="77.4" font-size="5.3" font-weight="normal" fill="#ff3820" text-anchor="start" textLength="20.9" lengthAdjust="spacingAndGlyphs" stroke="#ff3820" stroke-width="0.12">xx_spd</text>
<text x="427.6" y="85.1" font-size="5.3" font-weight="normal" fill="#f27a26" text-anchor="start" textLength="6.7" lengthAdjust="spacingAndGlyphs" stroke="#f27a26" stroke-width="0.12">lcd</text>
<text x="428.8" y="94.4" font-size="5.3" font-weight="normal" fill="#f27a26" text-anchor="start" textLength="6.5" lengthAdjust="spacingAndGlyphs" stroke="#f27a26" stroke-width="0.12">pc5</text>
<text x="412" y="98.4" font-size="5.3" font-weight="normal" fill="#98b032" text-anchor="start" textLength="13.4" lengthAdjust="spacingAndGlyphs" stroke="#98b032" stroke-width="0.12">bouks</text>
<text x="427.6" y="99.6" font-size="5.3" font-weight="normal" fill="#e29a22" text-anchor="start" textLength="11.1" lengthAdjust="spacingAndGlyphs" stroke="#e29a22" stroke-width="0.12">pcd3c</text>
<text x="427.5" y="109.2" font-size="5.3" font-weight="normal" fill="#f27a26" text-anchor="start" textLength="13.3" lengthAdjust="spacingAndGlyphs" stroke="#f27a26" stroke-width="0.12">brown</text>
<text x="427" y="115.8" font-size="5.3" font-weight="normal" fill="#f27a26" text-anchor="start" textLength="15" lengthAdjust="spacingAndGlyphs" stroke="#f27a26" stroke-width="0.12">lx_idte</text>
<text x="430" y="118.6" font-size="5.3" font-weight="normal" fill="#ff3820" text-anchor="start" textLength="12" lengthAdjust="spacingAndGlyphs" stroke="#ff3820" stroke-width="0.12">dxe</text>
<text x="428" y="121.7" font-size="5.3" font-weight="normal" fill="#ff3820" text-anchor="start" textLength="14" lengthAdjust="spacingAndGlyphs" stroke="#ff3820" stroke-width="0.12">nxxx</text>
<text x="426" y="124.5" font-size="5.3" font-weight="normal" fill="#ff3820" text-anchor="start" textLength="16" lengthAdjust="spacingAndGlyphs" stroke="#ff3820" stroke-width="0.12">xd_ld</text>
<text x="424" y="128.3" font-size="5.3" font-weight="normal" fill="#ff3820" text-anchor="start" textLength="16" lengthAdjust="spacingAndGlyphs" stroke="#ff3820" stroke-width="0.12">xx_dx</text>
<text x="422" y="131" font-size="5.3" font-weight="normal" fill="#ff3820" text-anchor="start" textLength="20" lengthAdjust="spacingAndGlyphs" stroke="#ff3820" stroke-width="0.12">xx_sdx1</text>
<text x="426.7" y="140.8" font-size="5.3" font-weight="normal" fill="#ff3820" text-anchor="start" textLength="9.1" lengthAdjust="spacingAndGlyphs" stroke="#ff3820" stroke-width="0.12">ohyd</text>
<text x="415.8" y="145" font-size="5.3" font-weight="normal" fill="#f27a26" text-anchor="start" textLength="11.7" lengthAdjust="spacingAndGlyphs" stroke="#f27a26" stroke-width="0.12">xxhyd</text>
<text x="381.7" y="148.5" font-size="5.3" font-weight="normal" fill="#98b032" text-anchor="start" textLength="21.3" lengthAdjust="spacingAndGlyphs" stroke="#98b032" stroke-width="0.12">xx_sepse</text>
<text x="398.9" y="159.6" font-size="5.3" font-weight="normal" fill="#fa2a30" text-anchor="start" textLength="23.5" lengthAdjust="spacingAndGlyphs" stroke="#fa2a30" stroke-width="0.12">sdopq_stat1</text>
<text x="353" y="169.4" font-size="5.3" font-weight="normal" fill="#f27a26" text-anchor="start" textLength="9.2" lengthAdjust="spacingAndGlyphs" stroke="#f27a26" stroke-width="0.12">mec</text>
<text x="373" y="168" font-size="5.3" font-weight="normal" fill="#e29a22" text-anchor="start" textLength="7.4" lengthAdjust="spacingAndGlyphs" stroke="#e29a22" stroke-width="0.12">dp4</text>
<text x="384.4" y="166.1" font-size="5.3" font-weight="normal" fill="#f27a26" text-anchor="start" textLength="13.9" lengthAdjust="spacingAndGlyphs" stroke="#f27a26" stroke-width="0.12">log_3</text>
<text x="273.5" y="29.8" font-size="10.2" font-weight="normal" fill="#333333" text-anchor="end" textLength="12.9" lengthAdjust="spacingAndGlyphs" stroke="#333333" stroke-width="0.4">1.0</text>
<text x="273.8" y="69.3" font-size="10.2" font-weight="normal" fill="#333333" text-anchor="end" textLength="12.9" lengthAdjust="spacingAndGlyphs" stroke="#333333" stroke-width="0.4">0.5</text>
<text x="273" y="108" font-size="10.2" font-weight="normal" fill="#333333" text-anchor="end" textLength="12.4" lengthAdjust="spacingAndGlyphs" stroke="#333333" stroke-width="0.4">0.0</text>
<text x="274.2" y="147.4" font-size="10.2" font-weight="normal" fill="#333333" text-anchor="end" textLength="16" lengthAdjust="spacingAndGlyphs" stroke="#333333" stroke-width="0.4">-0.5</text>
<text x="274.2" y="187.3" font-size="10.2" font-weight="normal" fill="#333333" text-anchor="end" textLength="16" lengthAdjust="spacingAndGlyphs" stroke="#333333" stroke-width="0.4">-1.0</text>
<text x="281.2" y="205.6" font-size="10.2" font-weight="normal" fill="#333333" text-anchor="middle" textLength="16.8" lengthAdjust="spacingAndGlyphs" stroke="#333333" stroke-width="0.4">-1.0</text>
<line x1="281.90" y1="194.36" x2="281.90" y2="196.16" stroke="#666" stroke-width="0.8"/>
<text x="322" y="205.6" font-size="10.2" font-weight="normal" fill="#333333" text-anchor="middle" textLength="16.6" lengthAdjust="spacingAndGlyphs" stroke="#333333" stroke-width="0.4">-0.5</text>
<line x1="323.10" y1="194.36" x2="323.10" y2="196.16" stroke="#666" stroke-width="0.8"/>
<text x="364.9" y="205.6" font-size="10.2" font-weight="normal" fill="#333333" text-anchor="middle" textLength="12.6" lengthAdjust="spacingAndGlyphs" stroke="#333333" stroke-width="0.4">0.0</text>
<line x1="364.30" y1="194.36" x2="364.30" y2="196.16" stroke="#666" stroke-width="0.8"/>
<text x="405.5" y="205.6" font-size="10.2" font-weight="normal" fill="#333333" text-anchor="middle" textLength="13.4" lengthAdjust="spacingAndGlyphs" stroke="#333333" stroke-width="0.4">0.5</text>
<line x1="405.50" y1="194.36" x2="405.50" y2="196.16" stroke="#666" stroke-width="0.8"/>
<text x="446.7" y="205.6" font-size="10.2" font-weight="normal" fill="#333333" text-anchor="middle" textLength="13.4" lengthAdjust="spacingAndGlyphs" stroke="#333333" stroke-width="0.4">1.0</text>
<line x1="446.70" y1="194.36" x2="446.70" y2="196.16" stroke="#666" stroke-width="0.8"/>
<text x="364.3" y="217.3" font-size="9.2" font-weight="normal" fill="#1a1a1a" text-anchor="middle" textLength="50.6" lengthAdjust="spacingAndGlyphs" stroke="#1a1a1a" stroke-width="0.5">Dim1 (46%)</text>
<text x="258" y="106.3" font-size="6.6" font-weight="normal" fill="#1a1a1a" text-anchor="middle" textLength="48.8" lengthAdjust="spacingAndGlyphs" transform="rotate(-90 258 106.3)" stroke="#1a1a1a" stroke-width="0.45">Dim2 (26.4%)</text>
<text x="461.7" y="85.3" font-size="7.2" font-weight="bold" fill="#1a1a1a" text-anchor="start" textLength="24" lengthAdjust="spacingAndGlyphs" stroke="#1a1a1a" stroke-width="0.15">contrib</text>
<defs><linearGradient id="bg" x1="0" y1="0" x2="0" y2="1"><stop offset="0" stop-color="#ff1c10"/><stop offset="0.3" stop-color="#f83a12"/><stop offset="0.5" stop-color="#d86018"/><stop offset="0.65" stop-color="#a08424"/><stop offset="0.8" stop-color="#58b238"/><stop offset="1" stop-color="#20e878"/></linearGradient></defs>
<rect x="464.2" y="89.5" width="9.600000000000023" height="45.30000000000001" fill="url(#bg)"/>
<text x="475.5" y="94.8" font-size="7" font-weight="bold" fill="#1a1a1a" text-anchor="start" textLength="9.6" lengthAdjust="spacingAndGlyphs" stroke="#1a1a1a" stroke-width="0.15">2.5</text>
<text x="475.5" y="105.9" font-size="7" font-weight="bold" fill="#1a1a1a" text-anchor="start" textLength="9.6" lengthAdjust="spacingAndGlyphs" stroke="#1a1a1a" stroke-width="0.15">2.0</text>
<text x="475.5" y="116.1" font-size="7" font-weight="bold" fill="#1a1a1a" text-anchor="start" textLength="9.6" lengthAdjust="spacingAndGlyphs" stroke="#1a1a1a" stroke-width="0.15">1.5</text>
<text x="475.5" y="126.9" font-size="7" font-weight="bold" fill="#1a1a1a" text-anchor="start" textLength="9.6" lengthAdjust="spacingAndGlyphs" stroke="#1a1a1a" stroke-width="0.15">1.0</text>
<line x1="495.5" y1="1.5" x2="495.5" y2="223.7" stroke="#dce5e4" stroke-width="1.3"/>
<line x1="495.5" y1="223.7" x2="737" y2="223.7" stroke="#dce5e4" stroke-width="1.3"/>
<line x1="545.62" y1="21.04" x2="545.62" y2="196.16" stroke="#e9eded" stroke-width="0.6"/>
<line x1="516.05" y1="168.30" x2="701.95" y2="168.30" stroke="#e9eded" stroke-width="0.6"/>
<line x1="587.88" y1="21.04" x2="587.88" y2="196.16" stroke="#e9eded" stroke-width="0.6"/>
<line x1="516.05" y1="128.50" x2="701.95" y2="128.50" stroke="#e9eded" stroke-width="0.6"/>
<line x1="630.12" y1="21.04" x2="630.12" y2="196.16" stroke="#e9eded" stroke-width="0.6"/>
<line x1="516.05" y1="88.70" x2="701.95" y2="88.70" stroke="#e9eded" stroke-width="0.6"/>
<line x1="672.38" y1="21.04" x2="672.38" y2="196.16" stroke="#e9eded" stroke-width="0.6"/>
<line x1="516.05" y1="48.90" x2="701.95" y2="48.90" stroke="#e9eded" stroke-width="0.6"/>
<line x1="524.50" y1="21.04" x2="524.50" y2="196.16" stroke="#e9eded" stroke-width="1"/>
<line x1="516.05" y1="188.20" x2="701.95" y2="188.20" stroke="#e9eded" stroke-width="1"/>
<line x1="566.75" y1="21.04" x2="566.75" y2="196.16" stroke="#e9eded" stroke-width="1"/>
<line x1="516.05" y1="148.40" x2="701.95" y2="148.40" stroke="#e9eded" stroke-width="1"/>
<line x1="609.00" y1="21.04" x2="609.00" y2="196.16" stroke="#e9eded" stroke-width="1"/>
<line x1="516.05" y1="108.60" x2="701.95" y2="108.60" stroke="#e9eded" stroke-width="1"/>
<line x1="651.25" y1="21.04" x2="651.25" y2="196.16" stroke="#e9eded" stroke-width="1"/>
<line x1="516.05" y1="68.80" x2="701.95" y2="68.80" stroke="#e9eded" stroke-width="1"/>
<line x1="693.50" y1="21.04" x2="693.50" y2="196.16" stroke="#e9eded" stroke-width="1"/>
<line x1="516.05" y1="29.00" x2="701.95" y2="29.00" stroke="#e9eded" stroke-width="1"/>
<ellipse cx="609" cy="108.6" rx="84.5" ry="79.6" fill="none" stroke="#8c9fa3" stroke-width="0.9"/>
<line x1="516.05" y1="108.6" x2="701.95" y2="108.6" stroke="#c8d8d8" stroke-width="1.3"/>
<line x1="609" y1="21.04" x2="609" y2="196.16" stroke="#c8d8d8" stroke-width="1.3"/>
<path d="M609.0 108.6L546.6 90.7M548.4 92.6L546.6 90.7L549.1 90.1" stroke="#e29a22" stroke-width="1.1" fill="none"/>
<path d="M609.0 108.6L554.0 93.6M555.8 95.4L554.0 93.6L556.5 92.9" stroke="#c9aa22" stroke-width="1.1" fill="none"/>
<path d="M609.0 108.6L592.5 58.1M592.0 60.6L592.5 58.1L594.4 59.8" stroke="#98b032" stroke-width="1.1" fill="none"/>
<path d="M609.0 108.6L618.3 58.1M616.6 60.1L618.3 58.1L619.2 60.5" stroke="#98b032" stroke-width="1.1" fill="none"/>
<path d="M609.0 108.6L648.0 54.7M645.6 55.8L648.0 54.7L647.7 57.3" stroke="#e29a22" stroke-width="1.1" fill="none"/>
<path d="M609.0 108.6L656.0 49.0M653.6 50.0L656.0 49.0L655.6 51.6" stroke="#ff3820" stroke-width="1.1" fill="none"/>
<path d="M609.0 108.6L658.1 53.7M655.6 54.5L658.1 53.7L657.6 56.2" stroke="#ff3820" stroke-width="1.1" fill="none"/>
<path d="M609.0 108.6L655.0 58.0M652.5 58.8L655.0 58.0L654.4 60.5" stroke="#f27a26" stroke-width="1.1" fill="none"/>
<path d="M609.0 108.6L664.6 56.5M662.1 57.1L664.6 56.5L663.8 59.0" stroke="#ff3820" stroke-width="1.1" fill="none"/>
<path d="M609.0 108.6L668.0 62.0M665.4 62.4L668.0 62.0L667.0 64.4" stroke="#ff3820" stroke-width="1.1" fill="none"/>
<path d="M609.0 108.6L658.1 63.0M655.6 63.6L658.1 63.0L657.3 65.5" stroke="#ff3820" stroke-width="1.1" fill="none"/>
<path d="M609.0 108.6L670.2 65.8M667.6 66.0L670.2 65.8L669.1 68.2" stroke="#ff3820" stroke-width="1.1" fill="none"/>
<path d="M609.0 108.6L660.0 76.9M657.4 77.0L660.0 76.9L658.8 79.2" stroke="#c9aa22" stroke-width="1.1" fill="none"/>
<path d="M609.0 108.6L684.0 81.5M681.4 81.0L684.0 81.5L682.3 83.5" stroke="#ff3820" stroke-width="1.1" fill="none"/>
<path d="M609.0 108.6L665.7 68.7M663.1 68.9L665.7 68.7L664.6 71.1" stroke="#fa5428" stroke-width="1.1" fill="none"/>
<path d="M609.0 108.6L647.4 107.0M645.1 105.8L647.4 107.0L645.2 108.4" stroke="#22dd99" stroke-width="1.1" fill="none"/>
<path d="M609.0 108.6L655.0 106.0M652.7 104.8L655.0 106.0L652.8 107.4" stroke="#22dd99" stroke-width="1.1" fill="none"/>
<path d="M609.0 108.6L672.0 108.5M669.7 107.2L672.0 108.5L669.8 109.8" stroke="#98b032" stroke-width="1.1" fill="none"/>
<path d="M609.0 108.6L666.0 113.0M663.9 111.5L666.0 113.0L663.7 114.1" stroke="#e29a22" stroke-width="1.1" fill="none"/>
<path d="M609.0 108.6L644.4 118.7M642.6 116.8L644.4 118.7L641.9 119.3" stroke="#66cc44" stroke-width="1.1" fill="none"/>
<path d="M609.0 108.6L660.7 117.2M658.7 115.5L660.7 117.2L658.3 118.1" stroke="#c9aa22" stroke-width="1.1" fill="none"/>
<path d="M609.0 108.6L668.0 124.6M666.2 122.8L668.0 124.6L665.5 125.3" stroke="#fa5428" stroke-width="1.1" fill="none"/>
<path d="M609.0 108.6L680.0 126.0M678.1 124.2L680.0 126.0L677.5 126.7" stroke="#ff3820" stroke-width="1.1" fill="none"/>
<path d="M609.0 108.6L674.0 130.5M672.3 128.5L674.0 130.5L671.5 131.0" stroke="#f27a26" stroke-width="1.1" fill="none"/>
<path d="M609.0 108.6L677.5 129.0M675.7 127.1L677.5 129.0L675.0 129.6" stroke="#fa5428" stroke-width="1.1" fill="none"/>
<path d="M609.0 108.6L670.0 133.0M668.4 131.0L670.0 133.0L667.4 133.4" stroke="#e29a22" stroke-width="1.1" fill="none"/>
<path d="M609.0 108.6L675.4 140.9M673.9 138.7L675.4 140.9L672.8 141.1" stroke="#ff3820" stroke-width="1.1" fill="none"/>
<path d="M609.0 108.6L668.6 149.7M667.5 147.4L668.6 149.7L666.0 149.5" stroke="#ff3820" stroke-width="1.1" fill="none"/>
<path d="M609.0 108.6L682.0 134.0M680.3 132.0L682.0 134.0L679.4 134.5" stroke="#ff3820" stroke-width="1.1" fill="none"/>
<path d="M609.0 108.6L625.5 152.5M625.9 149.9L625.5 152.5L623.5 150.8" stroke="#66cc44" stroke-width="1.1" fill="none"/>
<path d="M609.0 108.6L644.8 162.8M644.6 160.2L644.8 162.8L642.5 161.6" stroke="#f27a26" stroke-width="1.1" fill="none"/>
<path d="M609.0 108.6L640.0 155.0M639.8 152.4L640.0 155.0L637.7 153.8" stroke="#c9aa22" stroke-width="1.1" fill="none"/>
<path d="M609.0 108.6L568.7 154.2M571.2 153.4L568.7 154.2L569.2 151.7" stroke="#e29a22" stroke-width="1.1" fill="none"/>
<line x1="516.05" y1="108.6" x2="701.95" y2="108.6" stroke="#2c3d48" stroke-width="1.15" stroke-dasharray="1.6 1.05"/>
<line x1="609" y1="21.04" x2="609" y2="196.16" stroke="#2c3d48" stroke-width="1.15" stroke-dasharray="1.6 1.05"/>
<text x="538.3" y="85.6" font-size="5.3" font-weight="normal" fill="#e29a22" text-anchor="start" textLength="16.7" lengthAdjust="spacingAndGlyphs" stroke="#e29a22" stroke-width="0.12">ATSC3i</text>
<text x="543" y="89.8" font-size="5.3" font-weight="normal" fill="#c9aa22" text-anchor="start" textLength="19" lengthAdjust="spacingAndGlyphs" stroke="#c9aa22" stroke-width="0.12">ATSC1se</text>
<text x="582.7" y="53" font-size="5.3" font-weight="normal" fill="#98b032" text-anchor="start" textLength="18.7" lengthAdjust="spacingAndGlyphs" stroke="#98b032" stroke-width="0.12">HybRatio</text>
<text x="611.8" y="52.2" font-size="5.3" font-weight="normal" fill="#98b032" text-anchor="start" textLength="14.2" lengthAdjust="spacingAndGlyphs" stroke="#98b032" stroke-width="0.12">SLogP</text>
<text x="648.9" y="44.9" font-size="5.3" font-weight="normal" fill="#ff3820" text-anchor="start" textLength="20.4" lengthAdjust="spacingAndGlyphs" stroke="#ff3820" stroke-width="0.12">AETA_eta</text>
<text x="641.5" y="49.5" font-size="5.3" font-weight="normal" fill="#e29a22" text-anchor="start" textLength="13.9" lengthAdjust="spacingAndGlyphs" stroke="#e29a22" stroke-width="0.12">SaCH3</text>
<text x="656.3" y="51.9" font-size="5.3" font-weight="normal" fill="#ff3820" text-anchor="start" textLength="9.3" lengthAdjust="spacingAndGlyphs" stroke="#ff3820" stroke-width="0.12">nH3</text>
<text x="649.8" y="56.5" font-size="5.3" font-weight="normal" fill="#f27a26" text-anchor="start" textLength="16.7" lengthAdjust="spacingAndGlyphs" stroke="#f27a26" stroke-width="0.12">ATSC5p</text>
<text x="664.6" y="59.9" font-size="5.3" font-weight="normal" fill="#ff3820" text-anchor="start" textLength="13" lengthAdjust="spacingAndGlyphs" stroke="#ff3820" stroke-width="0.12">ATS8p</text>
<text x="650.7" y="72.3" font-size="5.3" font-weight="normal" fill="#c9aa22" text-anchor="start" textLength="19.5" lengthAdjust="spacingAndGlyphs" stroke="#c9aa22" stroke-width="0.12">ATSC0d</text>
<text x="672" y="77.3" font-size="5.3" font-weight="normal" fill="#ff3820" text-anchor="start" textLength="22.3" lengthAdjust="spacingAndGlyphs" stroke="#ff3820" stroke-width="0.12">ETA_dBeta_B</text>
<text x="639.7" y="102.7" font-size="5.3" font-weight="normal" fill="#22dd99" text-anchor="start" textLength="17.3" lengthAdjust="spacingAndGlyphs" stroke="#22dd99" stroke-width="0.12">ATSC2Z</text>
<text x="647.4" y="105.6" font-size="5.3" font-weight="normal" fill="#22dd99" text-anchor="start" textLength="17" lengthAdjust="spacingAndGlyphs" stroke="#22dd99" stroke-width="0.12">NssssN</text>
<text x="659.2" y="103.9" font-size="5.3" font-weight="normal" fill="#98b032" text-anchor="start" textLength="27.2" lengthAdjust="spacingAndGlyphs" stroke="#98b032" stroke-width="0.12">Estate_VSA1</text>
<text x="659" y="111.3" font-size="5.3" font-weight="normal" fill="#e29a22" text-anchor="start" textLength="14.4" lengthAdjust="spacingAndGlyphs" stroke="#e29a22" stroke-width="0.12">Estate_SA2</text>
<text x="636.3" y="115.8" font-size="5.3" font-weight="normal" fill="#66cc44" text-anchor="start" textLength="14.5" lengthAdjust="spacingAndGlyphs" stroke="#66cc44" stroke-width="0.12">ATSC1Z</text>
<text x="651.8" y="116.3" font-size="5.3" font-weight="normal" fill="#c9aa22" text-anchor="start" textLength="16.2" lengthAdjust="spacingAndGlyphs" stroke="#c9aa22" stroke-width="0.12">ATSC0p</text>
<text x="665" y="124.6" font-size="5.3" font-weight="normal" fill="#fa5428" text-anchor="start" textLength="23.8" lengthAdjust="spacingAndGlyphs" stroke="#fa5428" stroke-width="0.12">ETA_eta_R</text>
<text x="668" y="129" font-size="5.3" font-weight="normal" fill="#f27a26" text-anchor="start" textLength="14" lengthAdjust="spacingAndGlyphs" stroke="#f27a26" stroke-width="0.12">AATS1</text>
<text x="663.6" y="133.5" font-size="5.3" font-weight="normal" fill="#fa5428" text-anchor="start" textLength="13.9" lengthAdjust="spacingAndGlyphs" stroke="#fa5428" stroke-width="0.12">AATSC3i</text>
<text x="660.7" y="143.2" font-size="5.3" font-weight="normal" fill="#ff3820" text-anchor="start" textLength="25.1" lengthAdjust="spacingAndGlyphs" stroke="#ff3820" stroke-width="0.12">AETA_eta_F</text>
<text x="660.7" y="150.3" font-size="5.3" font-weight="normal" fill="#ff3820" text-anchor="start" textLength="16.8" lengthAdjust="spacingAndGlyphs" stroke="#ff3820" stroke-width="0.12">AATS2i</text>
<text x="617" y="149.6" font-size="5.3" font-weight="normal" fill="#98b032" text-anchor="start" textLength="30.9" lengthAdjust="spacingAndGlyphs" stroke="#98b032" stroke-width="0.12">AMID_h_ring</text>
<text x="632" y="156.1" font-size="5.3" font-weight="normal" fill="#f27a26" text-anchor="start" textLength="22.4" lengthAdjust="spacingAndGlyphs" stroke="#f27a26" stroke-width="0.12">AATSC0dv</text>
<text x="641" y="160" font-size="5.3" font-weight="normal" fill="#f27a26" text-anchor="start" textLength="8.6" lengthAdjust="spacingAndGlyphs" stroke="#f27a26" stroke-width="0.12">Aatv</text>
<text x="555.5" y="151.1" font-size="5.3" font-weight="normal" fill="#e29a22" text-anchor="start" textLength="24.1" lengthAdjust="spacingAndGlyphs" stroke="#e29a22" stroke-width="0.12">ETA_dBeta</text>
<text x="517" y="29.5" font-size="10.2" font-weight="normal" fill="#333333" text-anchor="end" textLength="14" lengthAdjust="spacingAndGlyphs" stroke="#333333" stroke-width="0.4">1.0</text>
<text x="517" y="68.9" font-size="10.2" font-weight="normal" fill="#333333" text-anchor="end" textLength="13.3" lengthAdjust="spacingAndGlyphs" stroke="#333333" stroke-width="0.4">0.5</text>
<text x="516" y="108.6" font-size="10.2" font-weight="normal" fill="#333333" text-anchor="end" textLength="12.7" lengthAdjust="spacingAndGlyphs" stroke="#333333" stroke-width="0.4">0.0</text>
<text x="517.2" y="148.7" font-size="10.2" font-weight="normal" fill="#333333" text-anchor="end" textLength="16.2" lengthAdjust="spacingAndGlyphs" stroke="#333333" stroke-width="0.4">-0.5</text>
<text x="516.2" y="188.7" font-size="10.2" font-weight="normal" fill="#333333" text-anchor="end" textLength="15.8" lengthAdjust="spacingAndGlyphs" stroke="#333333" stroke-width="0.4">-1.0</text>
<text x="525" y="205.4" font-size="10.2" font-weight="normal" fill="#333333" text-anchor="middle" textLength="16.2" lengthAdjust="spacingAndGlyphs" stroke="#333333" stroke-width="0.4">-1.0</text>
<line x1="524.50" y1="196.16" x2="524.50" y2="197.96" stroke="#666" stroke-width="0.8"/>
<text x="566.3" y="205.4" font-size="10.2" font-weight="normal" fill="#333333" text-anchor="middle" textLength="16.2" lengthAdjust="spacingAndGlyphs" stroke="#333333" stroke-width="0.4">-0.5</text>
<line x1="566.75" y1="196.16" x2="566.75" y2="197.96" stroke="#666" stroke-width="0.8"/>
<text x="608.7" y="205.4" font-size="10.2" font-weight="normal" fill="#333333" text-anchor="middle" textLength="12.7" lengthAdjust="spacingAndGlyphs" stroke="#333333" stroke-width="0.4">0.0</text>
<line x1="609.00" y1="196.16" x2="609.00" y2="197.96" stroke="#666" stroke-width="0.8"/>
<text x="651.5" y="205.4" font-size="10.2" font-weight="normal" fill="#333333" text-anchor="middle" textLength="13.5" lengthAdjust="spacingAndGlyphs" stroke="#333333" stroke-width="0.4">0.5</text>
<line x1="651.25" y1="196.16" x2="651.25" y2="197.96" stroke="#666" stroke-width="0.8"/>
<text x="694" y="205.4" font-size="10.2" font-weight="normal" fill="#333333" text-anchor="middle" textLength="13.5" lengthAdjust="spacingAndGlyphs" stroke="#333333" stroke-width="0.4">1.0</text>
<line x1="693.50" y1="196.16" x2="693.50" y2="197.96" stroke="#666" stroke-width="0.8"/>
<text x="609.6" y="217.8" font-size="9.0" font-weight="normal" fill="#1a1a1a" text-anchor="middle" textLength="58" lengthAdjust="spacingAndGlyphs" stroke="#1a1a1a" stroke-width="0.5">Dim1 (38.6%)</text>
<text x="502" y="107.4" font-size="6.4" font-weight="normal" fill="#1a1a1a" text-anchor="middle" textLength="46.7" lengthAdjust="spacingAndGlyphs" transform="rotate(-90 502 107.4)" stroke="#1a1a1a" stroke-width="0.45">Dim2 (22.2%)</text>
<text x="710.3" y="85.9" font-size="7.2" font-weight="bold" fill="#1a1a1a" text-anchor="start" textLength="21.2" lengthAdjust="spacingAndGlyphs" stroke="#1a1a1a" stroke-width="0.15">contrib</text>
<defs><linearGradient id="cg" x1="0" y1="0" x2="0" y2="1"><stop offset="0" stop-color="#ff1c10"/><stop offset="0.3" stop-color="#f83a12"/><stop offset="0.5" stop-color="#d86018"/><stop offset="0.65" stop-color="#a08424"/><stop offset="0.8" stop-color="#58b238"/><stop offset="1" stop-color="#20e878"/></linearGradient></defs>
<rect x="711.7" y="90" width="9.199999999999932" height="45.69999999999999" fill="url(#cg)"/>
<text x="723" y="101" font-size="7.4" font-weight="bold" fill="#1a1a1a" text-anchor="start" textLength="4.6" lengthAdjust="spacingAndGlyphs" stroke="#1a1a1a" stroke-width="0.15">4</text>
<text x="723" y="113.3" font-size="7.4" font-weight="bold" fill="#1a1a1a" text-anchor="start" textLength="4.6" lengthAdjust="spacingAndGlyphs" stroke="#1a1a1a" stroke-width="0.15">3</text>
<text x="723" y="124.6" font-size="7.4" font-weight="bold" fill="#1a1a1a" text-anchor="start" textLength="4.6" lengthAdjust="spacingAndGlyphs" stroke="#1a1a1a" stroke-width="0.15">2</text>
<text x="116.3" y="265.1" font-size="18" font-weight="normal" fill="#000" stroke="#000" stroke-width="0.3" text-anchor="middle" textLength="19.4" lengthAdjust="spacingAndGlyphs">(a)</text>
<text x="364.7" y="265.1" font-size="18" font-weight="normal" fill="#000" stroke="#000" stroke-width="0.3" text-anchor="middle" textLength="20.4" lengthAdjust="spacingAndGlyphs">(b)</text>
<text x="610.6" y="265.1" font-size="18" font-weight="normal" fill="#000" stroke="#000" stroke-width="0.3" text-anchor="middle" textLength="18.3" lengthAdjust="spacingAndGlyphs">(c)</text>
</svg></body></html>
